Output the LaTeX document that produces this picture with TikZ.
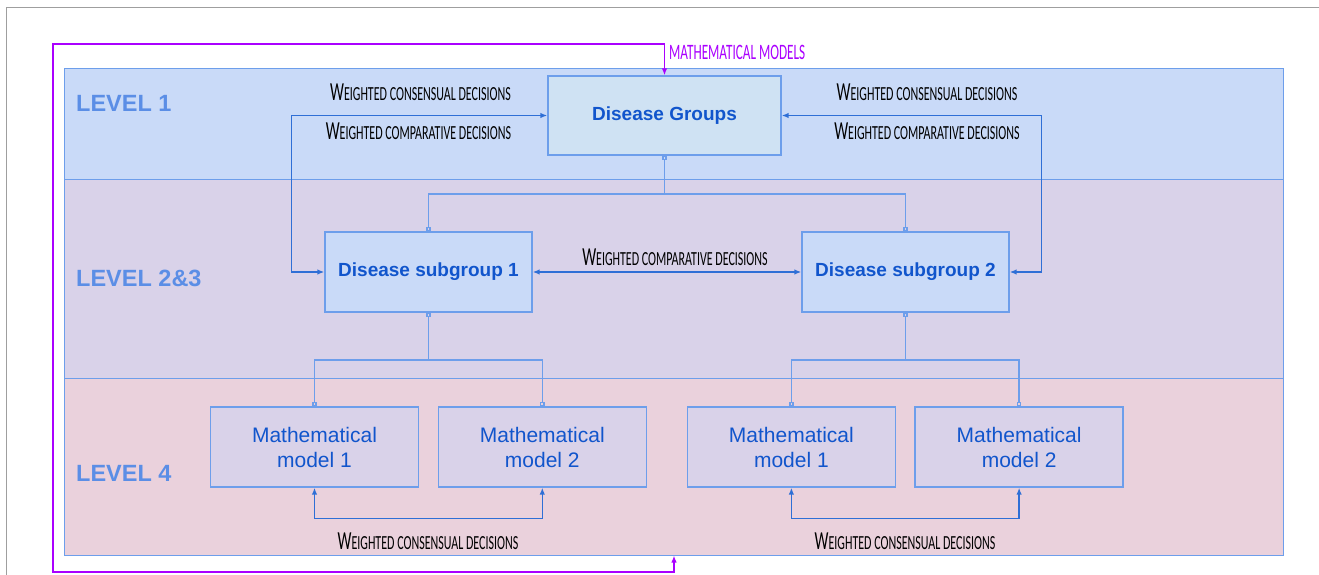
\documentclass[tikz,border=0pt]{standalone}
\usepackage{fontspec}
\setmainfont{Liberation Sans}
\newfontfamily\handfont[FakeStretch=0.6]{Carlito}
\usetikzlibrary{arrows.meta,calc}
\definecolor{bandA}{HTML}{C9DAF8}
\definecolor{bandB}{HTML}{D9D2E9}
\definecolor{bandC}{HTML}{EAD1DC}
\definecolor{boxA}{HTML}{CFE2F3}
\definecolor{edgec}{HTML}{6D9EEB}
\definecolor{txtc}{HTML}{1155CC}
\definecolor{lvlc}{HTML}{5B8EE6}
\definecolor{arrc}{HTML}{2F6FD6}
\definecolor{purp}{HTML}{AA00FF}
\newcommand\hwlabel[2]{{\handfont\fontsize{26}{26}\selectfont #1\fontsize{20}{20}\selectfont #2}}
\tikzset{
  band/.style={draw=edgec, line width=1.3pt, inner sep=0pt, anchor=north west},
  boxbase/.style={draw=edgec, line width=1.3pt, inner sep=0pt, text=txtc, align=center},
  dgbox/.style={boxbase, fill=boxA, minimum width=233pt, minimum height=79pt, font=\fontsize{19}{20}\selectfont\bfseries},
  subbox/.style={boxbase, fill=bandA, minimum width=207pt, minimum height=80pt, font=\fontsize{19}{20}\selectfont\bfseries},
  modbox/.style={boxbase, fill=bandB, minimum width=208pt, minimum height=80pt, font=\fontsize{21}{25}\selectfont},
  lvltext/.style={anchor=west, text=lvlc, font=\fontsize{23.5}{23.5}\selectfont\bfseries, inner sep=0pt},
  hand/.style={text=black, inner sep=0pt},
  tree/.style={draw=edgec, line width=1.4pt, {Square[open,length=4.5pt,width=4.5pt]}-{Square[open,length=4.5pt,width=4.5pt]}},
  dec/.style={draw=arrc, line width=1.4pt, {Latex[length=7pt,width=5.5pt]}-{Latex[length=7pt,width=5.5pt]}},
  mathloop/.style={draw=purp, line width=1.5pt, {Latex[length=7pt,width=5.5pt]}-{Latex[length=7pt,width=5.5pt]}}
}
\begin{document}
\begin{tikzpicture}[x=1pt,y=-1pt]
\useasboundingbox (0,0) rectangle (1319,575);
% page frame
\draw[gray!75, line width=1pt] (6,575) -- (6,8) -- (1319,8);
% level bands
\node[band, fill=bandA, minimum width=1219pt, minimum height=111pt] (b1) at (63.5,68) {};
\node[band, fill=bandB, minimum width=1219pt, minimum height=199pt] (b2) at (63.5,179) {};
\node[band, fill=bandC, minimum width=1219pt, minimum height=177pt] (b3) at (63.5,378) {};
% level texts
\node[lvltext] (l1) at (76,103) {LEVEL 1};
\node[lvltext] (l2) at (76,278) {LEVEL 2\&3};
\node[lvltext] (l4) at (76,473) {LEVEL 4};
% boxes
\node[dgbox] (dg) at (664.5,115.5) {Disease Groups};
\node[subbox] (s1) at (428.5,272) {Disease subgroup 1};
\node[subbox] (s2) at (905.5,272) {Disease subgroup 2};
\node[modbox] (m1) at (314.5,447) {Mathematical\\model 1};
\node[modbox] (m2) at (542.3,447) {Mathematical\\model 2};
\node[modbox] (m3) at (791.4,447) {Mathematical\\model 1};
\node[modbox] (m4) at (1019.1,447) {Mathematical\\model 2};
% hierarchy connectors
\draw[tree] (dg.south) -- (dg.south |- 0,194) -| (s1.north);
\draw[tree] (dg.south) -- (dg.south |- 0,194) -| (s2.north);
\draw[tree] (s1.south) -- (s1.south |- 0,360) -| (m1.north);
\draw[tree] (s1.south) -- (s1.south |- 0,360) -| (m2.north);
\draw[tree] (s2.south) -- (s2.south |- 0,360) -| (m3.north);
\draw[tree] (s2.south) -- (s2.south |- 0,360) -| (m4.north);
% decision arrows
\draw[dec] (dg.west) -| ([xshift=-33pt]s1.west) -- (s1.west);
\draw[dec] (dg.east) -| ([xshift=32pt]s2.east) -- (s2.east);
\draw[dec] (s1.east) -- (s2.west);
\draw[dec] (m1.south) -- ++(0,31) -| (m2.south);
\draw[dec] (m3.south) -- ++(0,31) -| (m4.south);
% purple loop
\coordinate (pbot) at (674,555.5);
\coordinate (pcorner) at (53,44);
\draw[mathloop] (pbot) -- ++(0,16.5) -| (pcorner) -| (dg.north);
% labels
\node[hand] (t1) at (420.5,92) {\hwlabel{W}{EIGHTED CONSENSUAL DECISIONS}};
\node[hand] (t2) at (418.5,131) {\hwlabel{W}{EIGHTED COMPARATIVE DECISIONS}};
\node[hand] (t3) at (927,92) {\hwlabel{W}{EIGHTED CONSENSUAL DECISIONS}};
\node[hand] (t4) at (927,131) {\hwlabel{W}{EIGHTED COMPARATIVE DECISIONS}};
\node[hand] (t5) at (675,257) {\hwlabel{W}{EIGHTED COMPARATIVE DECISIONS}};
\node[hand] (t6) at (428,541) {\hwlabel{W}{EIGHTED CONSENSUAL DECISIONS}};
\node[hand] (t7) at (905,541) {\hwlabel{W}{EIGHTED CONSENSUAL DECISIONS}};
\node[hand, anchor=west, text=purp] (t8) at (669,52) {\handfont\fontsize{22}{22}\selectfont MATHEMATICAL MODELS};
\end{tikzpicture}
\end{document}
